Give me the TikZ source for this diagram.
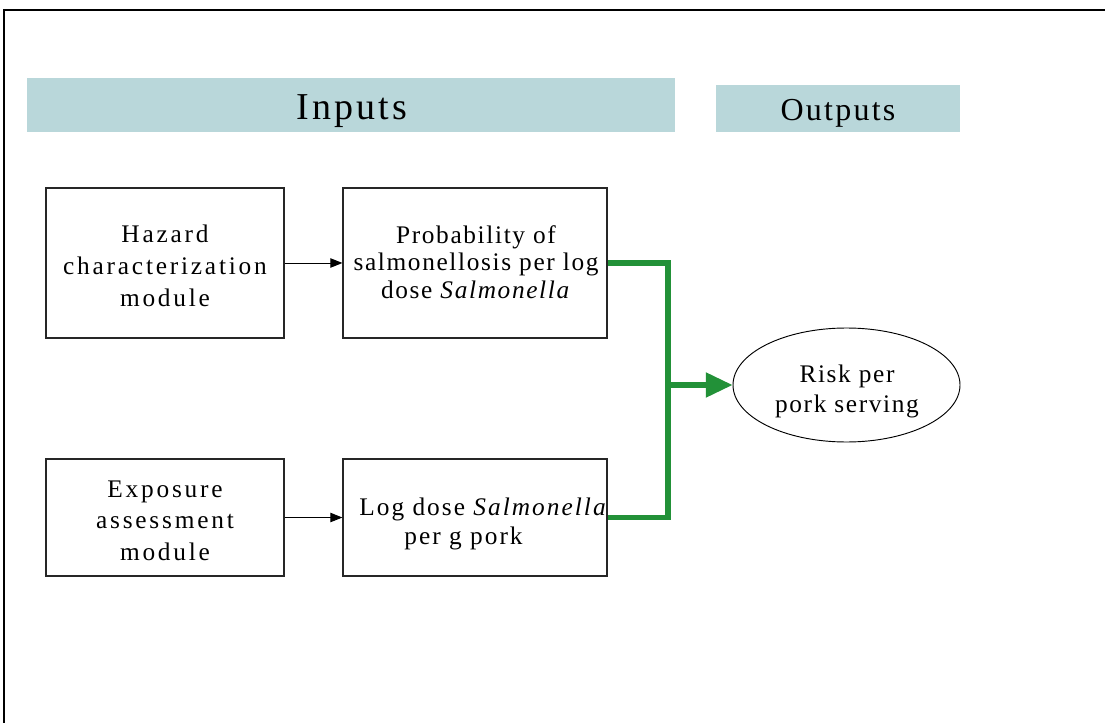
\documentclass[tikz,border=0pt]{standalone}
\usepackage{fontspec}
\setmainfont{Liberation Serif}
\newfontfamily\spA[LetterSpace=11]{Liberation Serif}
\newfontfamily\spB[LetterSpace=8]{Liberation Serif}
\newfontfamily\spC[LetterSpace=6.5]{Liberation Serif}
\newfontfamily\spD[LetterSpace=7]{Liberation Serif}
\usetikzlibrary{shapes.geometric,arrows.meta}
\definecolor{barblue}{RGB}{185,215,218}
\definecolor{flowgreen}{RGB}{34,145,56}
\tikzset{
  box/.style={draw=black!85, line width=0.9pt, rectangle, inner sep=0pt},
  txt/.style={inner sep=0pt, align=center},
  bar/.style={fill=barblue, draw=none, inner sep=0pt},
  thinarrow/.style={line width=0.7pt, -{Triangle[length=9pt,width=7pt]}},
  greenline/.style={draw=flowgreen, line width=3.8pt},
}
\begin{document}
\begin{tikzpicture}[x=0.75pt,y=-0.75pt]
\useasboundingbox (0,0) rectangle (1105,723);
% frame
\draw[line width=1.2pt] (4,723) -- (4,10) -- (1105,10);
% header bars
\node[bar, minimum width=486pt, minimum height=40.5pt] (inputs) at (351,105) {};
\node[txt, font=\fontsize{28.5}{34}\spB] (inputstext) at (352,111) {Inputs};
\node[bar, minimum width=183pt, minimum height=35.25pt] (outputs) at (838,108.5) {};
\node[txt, font=\fontsize{24}{28}\spD] (outputstext) at (838,113) {Outputs};
% boxes
\node[box, minimum width=178.5pt, minimum height=112.5pt] (hazard) at (165,263) {};
\node[txt, font=\fontsize{19}{24}\spA] (hazardtext) at (165,266) {Hazard\\characterization\\module};
\node[box, minimum width=198pt, minimum height=112.5pt] (prob) at (475,263) {};
\node[txt, font=\fontsize{19}{20.6}\spC] (probtext) at (476,262) {Probability of\\salmonellosis per log\\dose \textit{Salmonella}};
\node[box, minimum width=178.5pt, minimum height=87.75pt] (expo) at (165,517.5) {};
\node[txt, font=\fontsize{19}{23.5}\spA] (expotext) at (165,520.5) {Exposure\\assessment\\module};
\node[box, minimum width=198pt, minimum height=87.75pt] (logd) at (475,517.5) {};
\node[txt, font=\fontsize{19}{21.5}\spB] (logdtext) at (483.5,524) {Log dose \textit{Salmonella}\\per g pork\hspace*{30pt}\mbox{}};
% ellipse
\node[ellipse, draw=black, line width=0.7pt, minimum width=170.25pt, minimum height=85.5pt, inner sep=0pt] (risk) at (846.5,385) {};
\node[txt, font=\fontsize{19}{22.5}\spC] (risktext) at (847,391) {Risk per\\pork serving};
% connectors
\draw[thinarrow] (hazard.east) -- (prob.west);
\draw[thinarrow] (expo.east) -- (logd.west);
\coordinate (join) at (668,385);
\draw[greenline, line join=miter] (prob.east) -- (prob.east -| join) -- (logd.east -| join) -- (logd.east);
\draw[greenline, -{Triangle[length=20pt,width=18pt]}] (join) -- (risk.west);
\end{tikzpicture}
\end{document}
